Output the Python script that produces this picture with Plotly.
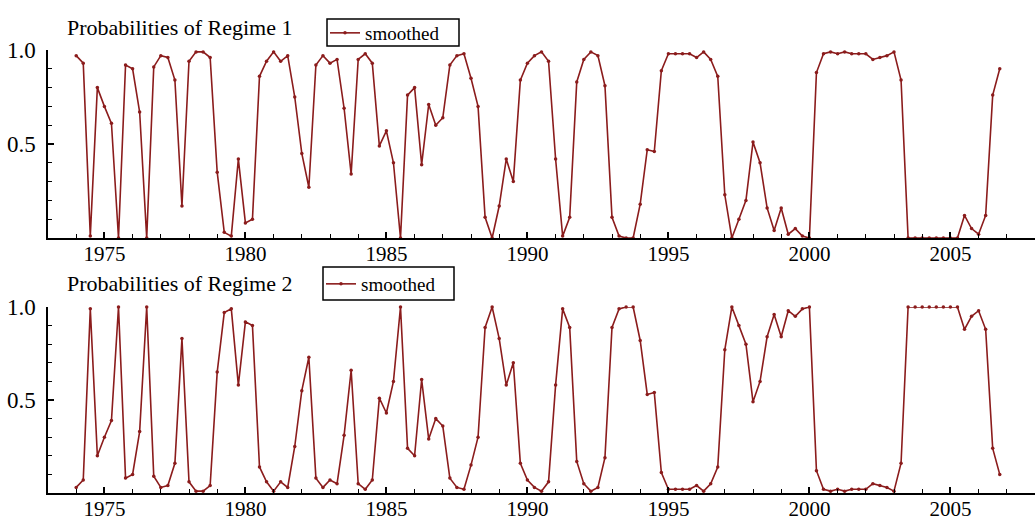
import plotly.graph_objects as go

# Quarterly observations, 1974Q1 .. 2006Q4
start_year = 1974
n_quarters = 132
quarters = [start_year + i / 4 for i in range(n_quarters)]

regime1_smoothed = [
    0.97, 0.93, 0.01, 0.80, 0.70, 0.61, 0.00, 0.92, 0.90, 0.67,
    0.00, 0.91, 0.97, 0.96, 0.84, 0.17, 0.94, 0.99, 0.99, 0.96,
    0.35, 0.03, 0.01, 0.42, 0.08, 0.10, 0.86, 0.94, 0.99, 0.94,
    0.97, 0.75, 0.45, 0.27, 0.92, 0.97, 0.93, 0.95, 0.69, 0.34,
    0.95, 0.98, 0.93, 0.49, 0.57, 0.40, 0.00, 0.76, 0.80, 0.39,
    0.71, 0.60, 0.64, 0.92, 0.97, 0.98, 0.85, 0.70, 0.11, 0.00,
    0.17, 0.42, 0.30, 0.84, 0.93, 0.97, 0.99, 0.94, 0.42, 0.01,
    0.11, 0.83, 0.95, 0.99, 0.97, 0.81, 0.11, 0.01, 0.00, 0.00,
    0.18, 0.47, 0.46, 0.89, 0.98, 0.98, 0.98, 0.98, 0.96, 0.99,
    0.95, 0.86, 0.23, 0.00, 0.10, 0.20, 0.51, 0.40, 0.16, 0.04,
    0.16, 0.02, 0.05, 0.01, 0.00, 0.88, 0.98, 0.99, 0.98, 0.99,
    0.98, 0.98, 0.98, 0.95, 0.96, 0.97, 0.99, 0.84, 0.00, 0.00,
    0.00, 0.00, 0.00, 0.00, 0.00, 0.00, 0.12, 0.05, 0.02, 0.12,
    0.76, 0.90,
]

regime2_smoothed = [
    0.03, 0.07, 0.99, 0.20, 0.30, 0.39, 1.00, 0.08, 0.10, 0.33,
    1.00, 0.09, 0.03, 0.04, 0.16, 0.83, 0.06, 0.01, 0.01, 0.04,
    0.65, 0.97, 0.99, 0.58, 0.92, 0.90, 0.14, 0.06, 0.01, 0.06,
    0.03, 0.25, 0.55, 0.73, 0.08, 0.03, 0.07, 0.05, 0.31, 0.66,
    0.05, 0.02, 0.07, 0.51, 0.43, 0.60, 1.00, 0.24, 0.20, 0.61,
    0.29, 0.40, 0.36, 0.08, 0.03, 0.02, 0.15, 0.30, 0.89, 1.00,
    0.83, 0.58, 0.70, 0.16, 0.07, 0.03, 0.01, 0.06, 0.58, 0.99,
    0.89, 0.17, 0.05, 0.01, 0.03, 0.19, 0.89, 0.99, 1.00, 1.00,
    0.82, 0.53, 0.54, 0.11, 0.02, 0.02, 0.02, 0.02, 0.04, 0.01,
    0.05, 0.14, 0.77, 1.00, 0.90, 0.80, 0.49, 0.60, 0.84, 0.96,
    0.84, 0.98, 0.95, 0.99, 1.00, 0.12, 0.02, 0.01, 0.02, 0.01,
    0.02, 0.02, 0.02, 0.05, 0.04, 0.03, 0.01, 0.16, 1.00, 1.00,
    1.00, 1.00, 1.00, 1.00, 1.00, 1.00, 0.88, 0.95, 0.98, 0.88,
    0.24, 0.10,
]

panel_titles = ["Probabilities of Regime 1", "Probabilities of Regime 2"]
legend_label = "smoothed"
x_tick_vals = [1975, 1980, 1985, 1990, 1995, 2000, 2005]
x_minor_vals = list(range(1973, 2009))
y_tick_vals = [0.5, 1.0]
y_tick_text = ["0.5", "1.0"]
y_minor_vals = [0.1, 0.2, 0.3, 0.4, 0.6, 0.7, 0.8, 0.9]

LINE = "#8b1c1c"
SERIF = "Liberation Serif"

fig = go.Figure()
fig.add_trace(go.Scatter(
    x=quarters, y=regime1_smoothed, mode="lines+markers", name=legend_label,
    line=dict(color=LINE, width=1.6), marker=dict(color=LINE, size=3.5),
    xaxis="x", yaxis="y", legend="legend", cliponaxis=False))
fig.add_trace(go.Scatter(
    x=quarters, y=regime2_smoothed, mode="lines+markers", name=legend_label,
    line=dict(color=LINE, width=1.6), marker=dict(color=LINE, size=3.5),
    xaxis="x2", yaxis="y2", legend="legend2", cliponaxis=False))

W, H = 1035, 520
L = 48

def xax(anchor):
    return dict(
        range=[1973, 2008], anchor=anchor, domain=[0, 1],
        tickmode="array", tickvals=x_tick_vals, ticktext=[str(v) for v in x_tick_vals],
        ticks="inside", ticklen=6, tickwidth=1.5, tickcolor="black",
        minor=dict(tickmode="array", tickvals=x_minor_vals, ticks="inside",
                   ticklen=4, tickwidth=1.2, tickcolor="black"),
        showline=True, linecolor="black", linewidth=1.5,
        showgrid=False, zeroline=False, automargin=False,
        tickfont=dict(family=SERIF, size=21, color="black"),
        ticklabelstandoff=-4,
    )

def yax(anchor, dom):
    return dict(
        range=[0, 1], anchor=anchor, domain=dom,
        tickmode="array", tickvals=y_tick_vals, ticktext=y_tick_text,
        ticks="inside", ticklen=6, tickwidth=1.5, tickcolor="black",
        minor=dict(tickmode="array", tickvals=y_minor_vals, ticks="inside",
                   ticklen=4, tickwidth=1.2, tickcolor="black"),
        showline=True, linecolor="black", linewidth=1.5,
        showgrid=False, zeroline=False, automargin=False,
        tickfont=dict(family=SERIF, size=23, color="black"),
        ticklabelstandoff=6,
    )

def fy(px):
    return 1 - px / H

def fx(px):
    return (px - L) / (W - L)

leg_common = dict(
    xanchor="left", yanchor="middle", bgcolor="rgba(0,0,0,0)",
    borderwidth=0,
    font=dict(family=SERIF, size=19, color="black"),
    itemwidth=30, tracegroupgap=0,
)

# legend frames (boxes around the two legends)
legend_boxes = [(327, 19, 459, 46), (323, 267, 454, 300)]
shapes = [
    dict(type="rect", xref="paper", yref="paper",
         x0=fx(x0), x1=fx(x1), y0=fy(y1), y1=fy(y0),
         line=dict(color="black", width=1.5), fillcolor="white", layer="below")
    for (x0, y0, x1, y1) in legend_boxes
]

fig.update_layout(
    width=W, height=H, autosize=False,
    margin=dict(l=L, r=0, t=0, b=0, autoexpand=False),
    paper_bgcolor="white", plot_bgcolor="white",
    xaxis=xax("y"), yaxis=yax("x", [fy(238), fy(50)]),
    xaxis2=xax("y2"), yaxis2=yax("x2", [fy(493), fy(307)]),
    legend=dict(x=fx(325), y=fy(33), **leg_common),
    legend2=dict(x=fx(321), y=fy(284), **leg_common),
    shapes=shapes,
    annotations=[
        dict(text=panel_titles[0], xref="paper", yref="paper",
             x=fx(65), y=fy(27), xanchor="left", yanchor="middle", showarrow=False,
             font=dict(family=SERIF, size=22, color="black")),
        dict(text=panel_titles[1], xref="paper", yref="paper",
             x=fx(65), y=fy(283), xanchor="left", yanchor="middle", showarrow=False,
             font=dict(family=SERIF, size=22, color="black")),
    ],
    showlegend=True,
)

fig.write_html(
    "out.html",
    config={"displayModeBar": False},
    post_script="document.body.style.margin='0px';document.body.style.overflow='hidden';",
)
